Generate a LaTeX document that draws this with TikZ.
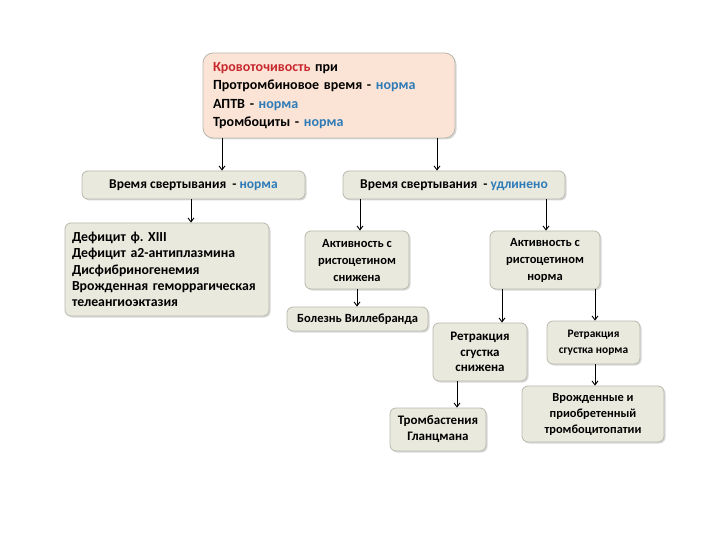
\documentclass[tikz,border=0pt]{standalone}
\usepackage{fontspec}
\setmainfont{Carlito}
\usetikzlibrary{arrows.meta,shadows}
\definecolor{peach}{HTML}{FBE4D5}
\definecolor{boxgray}{HTML}{E9E9DD}
\definecolor{edgegray}{HTML}{B8B8AE}
\definecolor{redtxt}{HTML}{C8282E}
\definecolor{bluetxt}{HTML}{2E7BB8}
\newcommand{\fs}[2]{\bfseries\fontsize{#1}{#2}\selectfont}
\frenchspacing
\begin{document}
\begin{tikzpicture}[x=1pt,y=-1pt,
  box/.style={draw=edgegray, line width=0.8pt, fill=boxgray, rounded corners=6pt,
     drop shadow={shadow xshift=1.5pt,shadow yshift=-1.5pt,opacity=0.3},
     font=\fs{12.5}{17}, align=center, inner sep=0pt},
  arr/.style={-{Straight Barb[length=4pt,width=6pt]}, line width=0.9pt, black}]
\useasboundingbox (0,0) rectangle (720,540);
% top box
\node[box, fill=peach, rounded corners=10pt, minimum width=252pt, minimum height=85pt,
      font=\fs{14}{18.3}, align=left, text width=232pt]
  (top) at (329,95.5) {\textcolor{redtxt}{Кровоточивость} при\\
  Протромбиновое время - \textcolor{bluetxt}{норма}\\
  АПТВ - \textcolor{bluetxt}{норма}\\
  Тромбоциты - \textcolor{bluetxt}{норма}};
\node[box, minimum width=223pt, minimum height=28pt, font=\fs{13.5}{16}] (tl) at (193.5,185)
  {Время свертывания \ - \textcolor{bluetxt}{норма}};
\node[box, minimum width=222pt, minimum height=28pt, font=\fs{13.5}{16}] (tr) at (454,185)
  {Время свертывания \ - \textcolor{bluetxt}{удлинено}};
\node[box, minimum width=204pt, minimum height=93pt, align=left, text width=190pt,
      font=\fs{13.8}{16.3}] (def) at (167,269.5)
  {Дефицит ф. XIII\\Дефицит a2-антиплазмина\\Дисфибриногенемия\\Врожденная геморрагическая\\телеангиоэктазия};
\node[box, minimum width=104pt, minimum height=58pt] (as) at (357,260)
  {Активность с\\ристоцетином\\снижена};
\node[box, minimum width=110pt, minimum height=58pt] (an) at (545,260)
  {Активность с\\ристоцетином\\норма};
\node[box, minimum width=141pt, minimum height=24pt] (vw) at (357.5,319)
  {Болезнь Виллебранда};
\node[box, minimum width=94pt, minimum height=58pt, font=\fs{13}{15.5}] (rs) at (480,352)
  {Ретракция\\сгустка\\снижена};
\node[box, minimum width=93pt, minimum height=43pt, font=\fs{11.4}{16}] (rn) at (593.5,342.5)
  {Ретракция\\сгустка норма};
\node[box, minimum width=96pt, minimum height=43pt, font=\fs{13}{16}] (tg) at (438,429.5)
  {Тромбастения\\Гланцмана};
\node[box, minimum width=142pt, minimum height=56pt, font=\fs{12.4}{16}] (vp) at (593,414)
  {Врожденные и\\приобретенный\\тромбоцитопатии};
% connectors
\draw[arr] (top.south -| 222,0) -- (tl.north -| 222,0);
\draw[arr] (top.south -| 437,0) -- (tr.north -| 437,0);
\draw[arr] (tl.south -| 191,0) -- (def.north -| 191,0);
\draw[arr] (tr.south -| 360,0) -- (as.north -| 360,0);
\draw[arr] (tr.south -| 546,0) -- (an.north -| 546,0);
\draw[arr] (as.south -| 357,0) -- (vw.north -| 357,0);
\draw[arr] (an.south -| 502,0) -- (rs.north -| 502,0);
\draw[arr] (an.south -| 595,0) -- (rn.north -| 595,0);
\draw[arr] (rs.south -| 457,0) -- (tg.north -| 457,0);
\draw[arr] (rn.south -| 595,0) -- (vp.north -| 595,0);
\end{tikzpicture}
\end{document}
